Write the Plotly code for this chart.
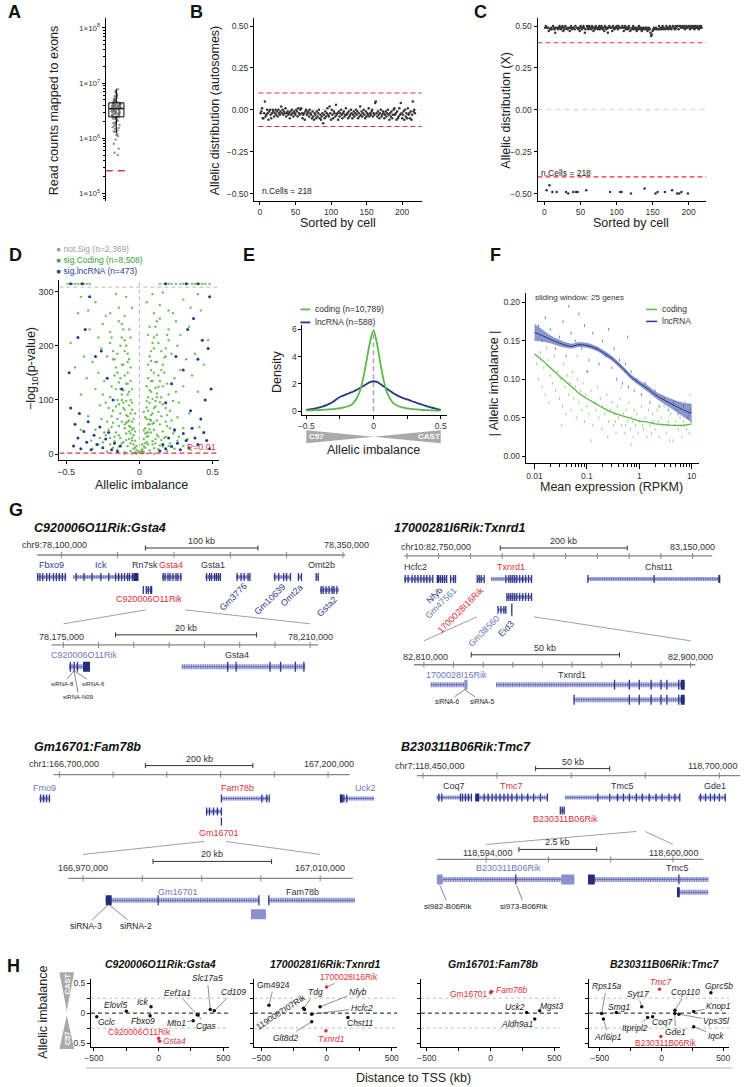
import plotly.graph_objects as go

W, H = 744, 1087
FONT = "Liberation Sans, Arial, Helvetica, sans-serif"

# ============================ DATA ============================
# ---- A: exonic read counts per cell ----
A_reads = [7.8e6, 7.2e6, 6.9e6, 6.5e6, 6.1e6, 5.9e6, 5.8e6, 5.5e6, 5.3e6, 5.2e6,
           5.0e6, 4.9e6, 4.8e6, 4.7e6, 4.6e6, 4.55e6, 4.5e6, 4.4e6, 4.4e6, 4.3e6,
           4.25e6, 4.2e6, 4.2e6, 4.1e6, 4.05e6, 4.0e6, 4.0e6, 3.9e6, 3.9e6, 3.85e6,
           3.8e6, 3.8e6, 3.7e6, 3.7e6, 3.65e6, 3.6e6, 3.6e6, 3.6e6, 3.5e6, 3.5e6,
           3.5e6, 3.45e6, 3.4e6, 3.4e6, 3.4e6, 3.3e6, 3.3e6, 3.25e6, 3.2e6, 3.2e6,
           3.1e6, 3.1e6, 3.05e6, 3.0e6, 3.0e6, 2.9e6, 2.9e6, 2.85e6, 2.8e6, 2.8e6,
           2.7e6, 2.7e6, 2.65e6, 2.6e6, 2.6e6, 2.5e6, 2.5e6, 2.45e6, 2.4e6, 2.4e6,
           2.3e6, 2.25e6, 2.2e6, 2.1e6, 2.0e6, 1.95e6, 1.9e6, 1.8e6, 1.75e6, 1.7e6,
           1.6e6, 1.55e6, 1.5e6, 1.4e6, 1.35e6, 1.3e6, 1.2e6, 1.15e6, 1.1e6, 9.5e5,
           8.0e5, 6.5e5, 5.5e5, 5.0e5]
A_q1, A_median, A_q3, A_lowfence, A_upfence = 2.45e6, 3.45e6, 4.4e6, 1.25e6, 7.9e6
A_cutoff = 2.6e5

# ---- B / C: allelic distribution per cell ----
N_CELLS = 218
B_vals = [
    -0.02, -0.01, 0.01, -0.05, -0.05, -0.02, 0.05, -0.04, -0.03, 0.00, -0.02, -0.06, -0.01, 0.00, -0.03, -0.05, -0.02, 0.00, -0.01, -0.04,
    -0.02, 0.00, -0.03, -0.01, -0.04, 0.00, -0.02, -0.03, -0.01, 0.02, -0.02, 0.00, -0.03, -0.01, -0.02, 0.01, -0.04, -0.02, -0.01, -0.03,
    -0.02, -0.05, -0.01, -0.03, 0.00, -0.02, -0.04, -0.01, -0.02, -0.03, 0.00, -0.01, -0.04, 0.01, -0.02, -0.03, 0.00, 0.01, -0.02, -0.05,
    -0.03, -0.02, -0.06, -0.01, 0.00, -0.03, -0.02, -0.01, -0.04, 0.00, -0.02, -0.03, -0.05, -0.01, -0.04, -0.06, -0.02, -0.03, -0.05, -0.01,
    -0.04, -0.02, 0.00, -0.05, -0.03, -0.06, -0.04, -0.02, -0.08, -0.03, -0.05, -0.01, -0.04, -0.02, 0.01, -0.03, -0.04, 0.02, -0.02, -0.06,
    0.00, -0.03, -0.05, -0.01, -0.02, -0.04, 0.03, -0.03, -0.02, -0.06, -0.01, -0.04, -0.02, 0.00, -0.03, -0.05, -0.02, -0.01, -0.04, -0.03,
    0.01, -0.03, -0.02, -0.05, -0.01, -0.04, -0.03, 0.00, -0.02, -0.05, -0.03, -0.01, -0.04, -0.02, 0.00, -0.03, -0.01, -0.05, -0.02, -0.04,
    0.02, -0.03, -0.01, -0.04, -0.02, 0.00, -0.03, -0.05, -0.01, -0.04, -0.02, -0.03, 0.01, -0.04, -0.02, -0.03, -0.01, 0.00, -0.04, -0.02,
    -0.03, 0.04, 0.05, -0.02, -0.04, -0.01, -0.03, -0.05, -0.02, 0.00, -0.04, -0.03, -0.01, -0.02, -0.05, -0.03, -0.01, -0.04, -0.02, 0.00,
    -0.03, -0.06, -0.02, -0.04, -0.01, -0.05, -0.03, 0.00, 0.01, -0.03, -0.02, -0.06, -0.01, -0.05, -0.04, 0.01, -0.03, 0.04, -0.02, -0.05,
    -0.03, -0.01, -0.06, 0.00, -0.04, -0.02, -0.05, 0.01, -0.03, -0.02, -0.05, -0.01, -0.06, -0.03, 0.05, -0.01, 0.00, -0.02]
B_cut = 0.1
C_hi = [
    0.49, 0.50, 0.48, 0.49, 0.49, 0.47, 0.50, 0.48, 0.49, 0.48, 0.49, 0.50, 0.49, 0.48, 0.46, 0.49, 0.50, 0.49, 0.48, 0.49,
    0.50, 0.49, 0.48, 0.49, 0.50, 0.47, 0.49, 0.48, 0.50, 0.49, 0.49, 0.48, 0.50, 0.49, 0.47, 0.49, 0.50, 0.48, 0.49, 0.50,
    0.49, 0.48, 0.50, 0.49, 0.49, 0.50, 0.48, 0.49, 0.47, 0.50, 0.49, 0.48, 0.49, 0.50, 0.49, 0.46, 0.48, 0.49, 0.50, 0.49,
    0.48, 0.50, 0.49, 0.49, 0.48, 0.50, 0.49, 0.47, 0.49, 0.48, 0.50, 0.49, 0.49, 0.48, 0.49, 0.50, 0.48, 0.49, 0.50, 0.49,
    0.48, 0.49, 0.47, 0.50, 0.49, 0.48, 0.49, 0.46, 0.49, 0.50, 0.48, 0.49, 0.49, 0.47, 0.50, 0.49, 0.48, 0.49, 0.49, 0.50,
    0.49, 0.48, 0.50, 0.49, 0.46, 0.49, 0.48, 0.50, 0.49, 0.47, 0.49, 0.50, 0.48, 0.49, 0.49, 0.48, 0.50, 0.49, 0.47, 0.49,
    0.48, 0.49, 0.50, 0.48, 0.49, 0.49, 0.48, 0.47, 0.49, 0.48, 0.50, 0.49, 0.48, 0.49, 0.47, 0.48, 0.49, 0.48, 0.47, 0.49,
    0.48, 0.49, 0.47, 0.48, 0.49, 0.48, 0.46, 0.44, 0.45, 0.47, 0.48, 0.49, 0.48, 0.47, 0.49, 0.48, 0.49, 0.48, 0.50, 0.48,
    0.49, 0.48, 0.49, 0.50, 0.48, 0.49, 0.49, 0.48, 0.50, 0.49, 0.49, 0.48, 0.49, 0.50, 0.49, 0.48, 0.49, 0.50, 0.49, 0.49,
    0.48, 0.50, 0.49, 0.49, 0.50, 0.48, 0.49, 0.50, 0.49, 0.48, 0.50, 0.49, 0.49, 0.50, 0.48, 0.49, 0.50, 0.49, 0.49, 0.50,
    0.49, 0.48, 0.50, 0.49, 0.49, 0.50, 0.49, 0.48, 0.50, 0.49, 0.49, 0.50, 0.49, 0.48, 0.50, 0.49, 0.50, 0.49]
C_lo_cells = [3, 7, 11, 17, 30, 33, 40, 44, 46, 58, 91, 105, 107, 120, 139, 154, 157, 167, 177, 184, 187, 190, 199]
C_lo_vals = [-0.48, -0.45, -0.49, -0.49, -0.49, -0.50, -0.49, -0.49, -0.49, -0.48, -0.49, -0.49, -0.49, -0.50,
             -0.47, -0.50, -0.49, -0.49, -0.48, -0.50, -0.50, -0.49, -0.50]
C_cut = 0.4

# ---- D: volcano (allelic imbalance, -log10 p) ----
D_notsig = [(-0.05, 1), (0.0, 2), (0.05, 1), (-0.1, 0.5), (0.1, 0.5), (-0.02, 0.8), (0.02, 1.2)]
D_coding = [
    (-0.22, 5), (-0.18, 12), (-0.15, 8), (-0.12, 20), (-0.10, 4), (-0.08, 15), (-0.06, 6), (-0.05, 25), (-0.04, 10), (-0.03, 3),
    (0.03, 4), (0.04, 12), (0.05, 22), (0.07, 7), (0.09, 18), (0.11, 28), (0.13, 9), (0.16, 14), (0.19, 6), (0.24, 10),
    (-0.28, 18), (-0.20, 30), (-0.14, 35), (-0.09, 38), (-0.07, 28), (-0.02, 2), (0.02, 6), (0.06, 33), (0.08, 40), (0.12, 36),
    (0.15, 26), (0.18, 32), (0.21, 20), (0.26, 25), (0.30, 15), (-0.32, 10), (-0.25, 22), (0.35, 8), (-0.17, 24), (0.10, 11),
    (-0.02, 15), (-0.03, 25), (-0.04, 35), (-0.05, 45), (-0.06, 20), (-0.07, 42), (-0.09, 26), (-0.10, 48), (-0.12, 60), (-0.13, 30),
    (-0.14, 52), (-0.16, 40), (-0.18, 58), (-0.21, 45), (-0.23, 35), (0.02, 18), (0.03, 28), (0.04, 38), (0.05, 40), (0.06, 18),
    (0.07, 46), (0.09, 24), (0.10, 45), (0.12, 62), (0.13, 32), (0.14, 55), (0.16, 42), (0.18, 60), (0.21, 48), (0.23, 38),
    (-0.04, 65), (0.04, 68), (-0.06, 100), (0.06, 105), (-0.03, 75), (0.03, 78), (-0.08, 150), (0.08, 155), (-0.05, 120), (0.05, 125),
    (-0.04, 48), (-0.05, 60), (-0.06, 75), (-0.07, 90), (-0.08, 110), (-0.09, 130), (-0.10, 55), (-0.11, 85), (-0.12, 100), (-0.13, 140),
    (-0.15, 65), (-0.16, 120), (-0.18, 80), (-0.20, 105), (-0.22, 60), (-0.24, 135), (-0.27, 90), (-0.30, 120), (-0.06, 50), (-0.08, 70),
    (0.04, 48), (0.05, 65), (0.06, 80), (0.07, 95), (0.08, 115), (0.09, 135), (0.10, 58), (0.11, 88), (0.12, 105), (0.13, 145),
    (0.15, 70), (0.16, 125), (0.18, 85), (0.20, 110), (0.22, 62), (0.24, 140), (0.27, 95), (0.30, 125), (0.06, 55), (0.08, 72),
    (-0.03, 42), (-0.05, 82), (-0.07, 62), (-0.09, 98), (-0.11, 118), (-0.14, 92), (-0.17, 145), (-0.19, 50), (0.03, 44), (0.05, 86),
    (0.07, 64), (0.09, 102), (0.11, 122), (0.14, 96), (0.17, 150), (0.19, 52), (-0.35, 70), (0.34, 75), (-0.40, 45), (0.41, 50),
    (-0.07, 175), (-0.09, 200), (-0.11, 230), (-0.06, 215), (-0.10, 255), (-0.15, 185), (-0.12, 165), (-0.19, 215), (-0.08, 130), (-0.10, 145),
    (0.07, 180), (0.09, 205), (0.11, 235), (0.06, 220), (0.10, 260), (0.15, 190), (0.12, 170), (0.19, 220), (0.08, 135), (0.10, 150),
    (-0.06, 160), (-0.08, 185), (-0.10, 210), (-0.12, 240), (-0.14, 270), (-0.16, 295), (-0.18, 175), (-0.20, 225), (-0.23, 255), (-0.26, 195),
    (-0.30, 280), (-0.34, 230), (-0.38, 180), (-0.42, 260), (-0.47, 205), (-0.09, 290), (-0.11, 165), (-0.13, 200), (-0.07, 230), (-0.05, 270),
    (0.06, 165), (0.08, 190), (0.10, 215), (0.12, 245), (0.14, 275), (0.16, 298), (0.18, 180), (0.20, 230), (0.23, 260), (0.26, 200),
    (0.30, 285), (0.34, 235), (0.38, 185), (0.42, 265), (0.47, 210), (0.09, 295), (0.11, 170), (0.13, 205), (0.07, 235), (0.05, 280),
    (-0.01, 5), (0.01, 5), (-0.02, 8), (0.02, 9), (-0.03, 12), (0.03, 14), (-0.04, 18), (0.04, 20), (-0.05, 30), (0.05, 32),
    (-0.06, 38), (0.06, 40), (-0.07, 52), (0.07, 55), (-0.08, 60), (0.08, 62), (-0.09, 72), (0.09, 75), (-0.10, 82), (0.10, 85),
    (-0.11, 95), (0.11, 98), (-0.12, 110), (0.12, 112), (-0.13, 120), (0.13, 124), (-0.14, 132), (0.14, 135), (-0.15, 150), (0.15, 155),
    (-0.16, 160), (0.16, 165), (-0.17, 175), (0.17, 178), (-0.18, 190), (0.18, 195), (-0.20, 205), (0.20, 210), (-0.22, 180), (0.22, 185),
    (-0.11, 22), (0.11, 20), (-0.14, 14), (0.14, 16), (-0.17, 32), (0.17, 30), (-0.20, 18), (0.20, 15), (-0.24, 40), (0.24, 42),
    (-0.27, 30), (0.27, 32), (-0.30, 45), (0.30, 48), (-0.33, 25), (0.33, 28), (-0.26, 65), (0.26, 68), (-0.21, 85), (0.21, 80),
    (-0.15, 100), (0.15, 105), (-0.19, 125), (0.19, 130), (-0.25, 110), (0.25, 115), (-0.28, 150), (0.28, 155), (-0.32, 170), (0.32, 175),
    (-0.36, 140), (0.36, 145), (-0.40, 110), (0.40, 115), (-0.44, 160), (0.44, 165), (-0.05, 95), (0.05, 98), (-0.07, 115), (0.07, 118),
    (-0.06, 135), (0.06, 140), (-0.08, 170), (0.08, 172), (-0.10, 190), (0.10, 195), (-0.12, 215), (0.12, 220), (-0.14, 245), (0.14, 250),
    (-0.20, 260), (0.20, 265), (-0.25, 240), (0.25, 245), (-0.28, 215), (0.28, 220), (-0.35, 265), (0.35, 270), (-0.40, 290), (0.40, 295),
    (-0.09, 58), (0.09, 56), (-0.13, 75), (0.13, 78), (-0.16, 88), (0.16, 92), (-0.19, 70), (0.19, 72), (-0.23, 95), (0.23, 98),
    (-0.49, 314), (-0.46, 314), (-0.44, 314), (-0.42, 314), (-0.40, 314), (-0.38, 314), (-0.36, 314), (-0.34, 314),
    (0.14, 314), (0.17, 314), (0.20, 314), (0.22, 314), (0.25, 314), (0.28, 314), (0.30, 314), (0.33, 314),
    (0.36, 314), (0.38, 314), (0.41, 314), (0.43, 314), (0.45, 314), (0.48, 314)]
D_lnc = [
    (-0.45, 15), (-0.42, 30), (-0.40, 10), (-0.38, 42), (-0.36, 22), (-0.33, 8), (-0.31, 35), (-0.29, 18), (-0.27, 50), (-0.25, 12),
    (-0.23, 28), (-0.21, 40), (-0.19, 8), (-0.17, 20), (-0.15, 5), (-0.13, 15), (-0.35, 60), (-0.44, 55), (-0.47, 85), (-0.41, 75),
    (0.14, 6), (0.16, 18), (0.18, 10), (0.20, 30), (0.22, 14), (0.24, 45), (0.26, 20), (0.28, 8), (0.30, 38), (0.32, 25),
    (0.34, 12), (0.36, 48), (0.38, 30), (0.40, 18), (0.42, 65), (0.44, 40), (0.46, 25), (0.48, 10), (0.35, 80), (0.45, 100),
    (-0.48, 150), (-0.37, 230), (-0.34, 290), (-0.30, 180), (-0.22, 140), (-0.18, 100), (-0.12, 120), (-0.42, 215), (-0.26, 190), (0.48, 290),
    (0.47, 195), (0.49, 120), (0.43, 210), (0.40, 175), (0.33, 230), (0.30, 155), (0.25, 180), (0.22, 130), (0.18, 95), (0.37, 250),
    (-0.47, 314), (-0.39, 314), (0.18, 314), (0.32, 314), (0.40, 314)]
D_cap_line = 308
D_pcut = 2  # -log10(0.01)

# ---- E: density of allelic imbalance ----
E_x = [-0.5, -0.475, -0.45, -0.425, -0.4, -0.375, -0.35, -0.325, -0.3, -0.275, -0.25, -0.225, -0.2, -0.175, -0.15,
       -0.125, -0.1, -0.075, -0.05, -0.025, 0, 0.025, 0.05, 0.075, 0.1, 0.125, 0.15, 0.175, 0.2, 0.225, 0.25,
       0.275, 0.3, 0.325, 0.35, 0.375, 0.4, 0.425, 0.45, 0.475, 0.5]
E_coding = [0.05, 0.06, 0.07, 0.08, 0.09, 0.10, 0.12, 0.14, 0.16, 0.19, 0.22, 0.27, 0.33, 0.42, 0.60,
            0.95, 1.5, 2.5, 3.8, 5.1, 5.9, 5.0, 3.6, 2.3, 1.4, 0.9, 0.58, 0.42, 0.32, 0.26, 0.21,
            0.18, 0.15, 0.13, 0.11, 0.09, 0.08, 0.07, 0.06, 0.05, 0.04]
E_lnc = [0.10, 0.14, 0.18, 0.23, 0.28, 0.35, 0.45, 0.56, 0.70, 0.88, 1.05, 1.15, 1.25, 1.35, 1.45,
         1.57, 1.70, 1.85, 2.00, 2.13, 2.20, 2.15, 2.00, 1.83, 1.65, 1.48, 1.30, 1.17, 1.05, 0.95, 0.87,
         0.78, 0.68, 0.60, 0.52, 0.44, 0.36, 0.29, 0.22, 0.16, 0.10]

# ---- F: |allelic imbalance| vs expression ----
F_curve_x = [0.01, 0.015, 0.02, 0.03, 0.05, 0.07, 0.1, 0.15, 0.2, 0.3, 0.5, 0.7, 1, 1.5, 2, 3, 5, 7, 10]
F_coding = [0.133, 0.123, 0.115, 0.104, 0.091, 0.082, 0.075, 0.068, 0.063, 0.057, 0.052, 0.049, 0.046, 0.044, 0.042, 0.041, 0.040, 0.040, 0.042]
F_lnc = [0.161, 0.156, 0.152, 0.147, 0.143, 0.145, 0.144, 0.140, 0.135, 0.127, 0.113, 0.103, 0.095, 0.087, 0.080, 0.073, 0.065, 0.060, 0.056]
F_lnc_lo = [0.150, 0.149, 0.147, 0.143, 0.140, 0.142, 0.141, 0.137, 0.132, 0.124, 0.110, 0.100, 0.092, 0.083, 0.076, 0.068, 0.058, 0.051, 0.044]
F_lnc_hi = [0.172, 0.163, 0.157, 0.151, 0.146, 0.148, 0.147, 0.143, 0.138, 0.130, 0.116, 0.106, 0.098, 0.091, 0.084, 0.078, 0.072, 0.069, 0.068]
F_coding_pts = [
    (0.011, 0.12), (0.012, 0.10), (0.013, 0.135), (0.014, 0.09), (0.015, 0.115), (0.016, 0.08), (0.018, 0.125), (0.019, 0.07), (0.02, 0.105), (0.022, 0.095),
    (0.024, 0.13), (0.025, 0.085), (0.027, 0.11), (0.03, 0.075), (0.032, 0.1), (0.034, 0.065), (0.036, 0.12), (0.038, 0.09), (0.04, 0.055), (0.042, 0.105),
    (0.045, 0.08), (0.048, 0.095), (0.05, 0.06), (0.053, 0.11), (0.056, 0.075), (0.06, 0.09), (0.063, 0.05), (0.066, 0.1), (0.07, 0.07), (0.075, 0.085),
    (0.08, 0.06), (0.085, 0.095), (0.09, 0.045), (0.095, 0.08), (0.1, 0.065), (0.105, 0.11), (0.11, 0.055), (0.12, 0.085), (0.13, 0.04), (0.14, 0.07),
    (0.15, 0.06), (0.16, 0.09), (0.17, 0.05), (0.18, 0.075), (0.19, 0.035), (0.2, 0.065), (0.22, 0.055), (0.24, 0.08), (0.26, 0.045), (0.28, 0.06),
    (0.3, 0.07), (0.32, 0.04), (0.34, 0.055), (0.36, 0.03), (0.38, 0.065), (0.4, 0.05), (0.43, 0.075), (0.46, 0.04), (0.5, 0.055), (0.53, 0.03),
    (0.56, 0.06), (0.6, 0.045), (0.64, 0.07), (0.68, 0.035), (0.72, 0.05), (0.76, 0.025), (0.8, 0.06), (0.85, 0.04), (0.9, 0.055), (0.95, 0.03),
    (1.0, 0.045), (1.1, 0.065), (1.2, 0.035), (1.3, 0.05), (1.4, 0.025), (1.5, 0.06), (1.6, 0.04), (1.7, 0.03), (1.8, 0.055), (1.9, 0.045),
    (2.0, 0.035), (2.2, 0.06), (2.4, 0.025), (2.6, 0.05), (2.8, 0.04), (3.0, 0.065), (3.3, 0.03), (3.6, 0.045), (4.0, 0.055), (4.4, 0.02),
    (4.8, 0.04), (5.2, 0.06), (5.6, 0.035), (6.0, 0.05), (6.5, 0.025), (7.0, 0.045), (7.5, 0.07), (8.0, 0.035), (8.7, 0.055), (9.4, 0.08),
    (0.033, 0.04), (0.25, 0.025), (0.12, 0.02), (0.7, 0.015), (2.5, 0.075), (0.45, 0.09), (0.065, 0.13), (0.017, 0.14), (3.8, 0.02), (9.0, 0.03),
    (0.35, 0.045), (0.55, 0.04), (0.75, 0.045), (1.15, 0.04), (1.75, 0.045), (2.3, 0.045), (3.5, 0.04), (5.0, 0.045), (7.2, 0.04), (9.8, 0.045)]
F_lnc_pts = [
    (0.012, 0.17), (0.014, 0.15), (0.016, 0.18), (0.02, 0.165), (0.025, 0.14), (0.03, 0.155), (0.035, 0.175), (0.04, 0.13), (0.05, 0.16), (0.06, 0.15),
    (0.07, 0.185), (0.08, 0.14), (0.09, 0.17), (0.11, 0.125), (0.13, 0.16), (0.15, 0.14), (0.17, 0.12), (0.2, 0.15), (0.23, 0.13), (0.26, 0.165),
    (0.3, 0.115), (0.33, 0.14), (0.37, 0.1), (0.42, 0.125), (0.48, 0.095), (0.55, 0.12), (0.62, 0.09), (0.7, 0.11), (0.8, 0.085), (0.9, 0.1),
    (1.1, 0.08), (1.3, 0.095), (1.6, 0.07), (2.0, 0.085), (2.4, 0.065), (3.0, 0.075), (3.6, 0.06), (4.5, 0.07), (5.5, 0.055), (7.0, 0.065),
    (8.5, 0.05), (9.5, 0.06), (0.1, 0.11), (0.045, 0.195), (0.6, 0.155)]

# ---- G: gene models (kb coordinates) ----
# (name, start, end, exons, thick blocks, row, kind)
G1U_genes = [
    ("Fbxo9", 78078.5, 78104.5, [78079, 78081, 78083.5, 78087, 78089.5, 78093, 78095.6, 78098.2, 78100.9, 78103.5], [], 1, "blue"),
    ("Ick", 78110.5, 78168.4, [78113.2, 78120.2, 78127.2, 78135.1, 78142.1, 78148.2, 78150.9, 78153.5, 78156.1, 78158.8, 78160.5, 78163.2], [(78164.0, 78168.4)], 1, "blue"),
    ("Rn7sk", 78172.6, 78173.0, [78172.8], [], 2, "dark"),
    ("Gsta4", 78189.5, 78207.0, [78190.4, 78192.1, 78194.7, 78196.5, 78199.1, 78201.8, 78203.5, 78206.1], [], 1, "focus"),
    ("Gsta1", 78228.1, 78241.2, [78229.0, 78231.6, 78233.3, 78236.0, 78237.7, 78239.5, 78241.2], [], 1, "dark"),
    ("Gm3776", 78255.3, 78267.5, [78256.1, 78259.6, 78262.3, 78265.8, 78267.5], [], 1, "blue"),
    ("Gm10639", 78288.6, 78303.5, [78289.5, 78293.0, 78297.4, 78300.0, 78303.5], [], 1, "blue"),
    ("Omt2a", 78310.5, 78313.2, [78310.5, 78313.2], [], 1, "blue"),
    ("Omt2b", 78326.3, 78328.1, [78326.3, 78328.1], [], 1, "dark"),
    ("C920006O11Rik", 78175.4, 78180.7, [78175.4, 78177.2], [(78178.9, 78180.7)], 2, "focus"),
    ("Gsta2", 78329.8, 78346.5, [78330.7, 78332.5, 78335.1, 78337.7, 78340.4, 78342.1, 78344.7], [], 2, "blue")]
G1L_genes = [
    ("C920006O11Rik", 78175.84, 78178.78, [78176.0, 78176.54, 78177.0], [(78177.8, 78178.78)], 1, "light"),
    ("Gsta4", 78191.8, 78209.3, [78198.3, 78199.5, 78204.3, 78205.8, 78207.9, 78209.1], [], 1, "dark")]
G1L_sirna = [("siRNA-8", 78176.5), ("siRNA-6", 78176.5), ("siRNA-N09", 78176.5)]

G2U_genes = [
    ("Hcfc2", 82695.5, 82740.7, [82697.1, 82701.8, 82708.0, 82712.6, 82717.3, 82722.0, 82726.7, 82731.3, 82736.0, 82740.7], [], 1, "dark"),
    ("Nfyb", 82746.9, 82762.5, [82750.0, 82753.1, 82756.2, 82759.3, 82762.5], [(82746.9, 82749.5)], 1, "blue"),
    ("Gm47561", 82768.7, 82776.5, [82768.7, 82773.4, 82776.5], [], 1, "light"),
    ("1700028I16Rik", 82810.7, 82821.6, [82810.7, 82813.8, 82816.9, 82821.6], [], 1, "focus"),
    ("Txnrd1", 82832.5, 82896.3, [82855.8, 82860.5, 82863.6, 82866.7, 82869.8, 82873.0, 82877.6, 82882.3, 82886.9, 82891.6, 82896.3], [], 1, "focus"),
    ("Txnrd1-iso2", 82857.4, 82896.3, [82857.4, 82860.5, 82863.6, 82866.7, 82869.8, 82873.0, 82877.6, 82882.3, 82886.9, 82891.6, 82896.3], [], 2, None),
    ("Gm38560", 82843.4, 82855.8, [82843.4, 82848.1, 82852.7, 82855.8], [], 3, "light"),
    ("Eid3", 82865.0, 82865.4, [82865.2], [], 3, "blue"),
    ("Chst11", 82985.0, 83193.6, [82985.0, 83089.3], [(83190.5, 83193.6)], 1, "dark")]
G2L_genes = [
    ("1700028I16Rik", 82812.33, 82824.67, [], [(82823.67, 82824.67)], 1, "light"),
    ("Txnrd1", 82834.33, 82898.0, [82874.33, 82879.33, 82882.67, 82886.67, 82890.0, 82892.0, 82896.0], [(82896.67, 82898.0)], 1, "dark"),
    ("Txnrd1-iso2", 82860.67, 82898.0, [82860.67, 82879.33, 82882.67, 82886.67, 82890.0, 82892.0, 82896.0], [(82896.67, 82898.0)], 2, None)]
G2L_sirna = [("siRNA-6", 82823.7), ("siRNA-5", 82823.7)]

G3U_genes = [
    ("Fmo9", 166663.2, 166681.6, [166665.1, 166670.6, 166676.1, 166681.6], [], 1, "light"),
    ("Fam78b", 167001.5, 167091.5, [167001.5, 167076.8, 167086.0], [(167089.7, 167091.5)], 1, "focus"),
    ("Gm16701", 166973.9, 167001.5, [166973.9, 166979.4, 166986.8, 166994.1, 167001.5], [], 2, "focus"),
    ("Gm16701-iso", 167001.3, 167001.7, [167001.5], [], 3, None),
    ("Uck2", 167222.0, 167286.4, [167223.9, 167229.4, 167234.9], [(167222.0, 167227.5)], 1, "light")]
G3L_genes = [
    ("Gm16701", 166973.83, 166999.67, [166982.67, 166999.67], [(166973.83, 166974.83)], 1, "light"),
    ("Fam78b", 167001.33, 167016.0, [167001.33], [], 1, "dark"),
    ("Gm16701-iso", 166998.33, 167000.83, [], [(166998.33, 167000.83)], 2, None)]
G3L_sirna = [("siRNA-3", 166974.3), ("siRNA-2", 166974.3)]

G4U_genes = [
    ("Coq7", 118459.3, 118482.7, [118460.7, 118462.7, 118475.3, 118476.7, 118478.7, 118480.7, 118482.7], [], 1, "dark"),
    ("Tmc7", 118485.3, 118534.0, [118491.3, 118494.0, 118496.7, 118499.3, 118502.0, 118504.7, 118507.3, 118510.0, 118513.3, 118516.7, 118520.7, 118524.7, 118529.3, 118534.0], [(118485.3, 118488.0)], 1, "focus"),
    ("Tmc5", 118546.0, 118623.3, [118568.0, 118576.0, 118581.3, 118585.3, 118589.3, 118594.0, 118598.0, 118602.7, 118607.3, 118611.3, 118616.0, 118620.0, 118623.3], [], 1, "dark"),
    ("Gde1", 118636.0, 118654.0, [118637.3, 118640.7, 118644.0, 118646.7, 118650.0, 118654.0], [], 1, "dark"),
    ("B230311B06Rik", 118542.7, 118545.3, [118542.7, 118544.0, 118545.3], [], 2, "focus")]
G4L_genes = [
    ("B230311B06Rik", 118592.41, 118596.83, [118594.95], [(118592.41, 118592.60), (118596.41, 118596.83)], 1, "light"),
    ("Tmc5", 118597.27, 118601.2, [118600.19], [(118597.27, 118597.49)], 1, "dark"),
    ("Tmc5-iso2", 118600.13, 118601.2, [], [(118600.13, 118600.22)], 2, None)]
G4L_sirna = [("si982-B06Rik", 118592.51), ("si973-B06Rik", 118594.98)]

G_loci = [("chr9", 78100000, 78350000, 78175000, 78210000),
          ("chr10", 82750000, 83150000, 82810000, 82900000),
          ("chr1", 166700000, 167200000, 166970000, 167010000),
          ("chr7", 118450000, 118700000, 118594000, 118600000)]
G_titles = ["C920006O11Rik:Gsta4", "17000281I6Rik:Txnrd1", "Gm16701:Fam78b", "B230311B06Rik:Tmc7"]
# scale bars: (centre kb, length kb, label)
G_scales = {"G1U": (78224.6, 100, "100 kb"), "G1L": (78192.4, 20, "20 kb"),
            "G2U": (82947.0, 200, "200 kb"), "G2L": (82851.0, 50, "50 kb"),
            "G3U": (166960.0, 200, "200 kb"), "G3L": (166991.8, 20, "20 kb"),
            "G4U": (118551.0, 50, "50 kb"), "G4L": (118596.3, 2.5, "2.5 kb")}

# ---- H: neighbourhood allelic imbalance (distance kb, imbalance, kind) ----
H1 = [("Gclc", -478, -0.06, "g"), ("Elovl5", -249, 0.033, "g"), ("Ick", -59, 0.105, "g"), ("Fbxo9", -66, -0.044, "g"),
      ("Mto1", 267, -0.127, "g"), ("Eef1a1", 298, -0.028, "g"), ("Cgas", 305, -0.033, "g"), ("Slc17a5", 399, 0.061, "g"),
      ("Cd109", 430, 0.039, "g"), ("C920006O11Rik", 0, -0.42, "lnc"), ("Gsta4", 8, -0.47, "focus")]
H2 = [("Gm4924", -442, 0.133, "u"), ("1700028I16Rik", 0, 0.436, "lnc"), ("Tdg", -177, 0.083, "g"),
      ("1190007I07Rik", -169, 0.06, "u"), ("Nfyb", -50, 0.105, "g"), ("Hcfc2", -114, -0.017, "g"),
      ("Glt8d2", -114, -0.144, "g"), ("Txnrd1", -5, -0.293, "focus"), ("Chst11", 164, -0.072, "g")]
H3 = [("Gm16701", 0, 0.34, "lnc"), ("Fam78b", 5, 0.36, "focus"), ("Uck2", 282, 0.011, "g"),
      ("Mgst3", 385, 0.039, "g"), ("Aldh9a1", 346, -0.1, "g")]
H4 = [("Rps15a", -485, -0.005, "g"), ("Arl6ip1", -470, -0.1, "g"), ("Tmc7", -16, 0.40, "focus"),
      ("Gprc5b", 400, 0.34, "g"), ("Syt17", -160, 0.105, "g"), ("Ccp110", 109, 0.05, "g"), ("Smg1", -365, 0.011, "g"),
      ("Knop1", 261, 0.028, "g"), ("Vps35l", 141, -0.017, "g"), ("Iqck", 261, -0.227, "g"), ("Gde1", 107, -0.006, "g"),
      ("Coq7", -72, -0.061, "g"), ("Itpripl2", -112, -0.072, "g"), ("B230311B06Rik", -5, -0.392, "lnc")]

# ============================ STYLE / LAYOUT ============================
fig = go.Figure()
L = {}
shapes = []
ann = []


def xd(a, b):
    return [a / W, b / W]


def yd(top, bot):
    return [1 - bot / H, 1 - top / H]


def PX(x):
    return x / W


def PY(y):
    return 1 - y / H


def AXS(**kw):
    d = dict(showline=True, linecolor='black', linewidth=1, ticks='outside', ticklen=3, tickwidth=1,
             tickcolor='black', showgrid=False, zeroline=False,
             tickfont=dict(size=8.5, color='#333333', family=FONT))
    d.update(kw)
    return d


def HIDDEN(**kw):
    d = dict(showline=False, showticklabels=False, ticks='', showgrid=False, zeroline=False)
    d.update(kw)
    return d


def txt(x, y, s, size=9, color='#222222', xanchor='center', yanchor='middle', angle=0, xref='paper', yref='paper', **kw):
    if xref == 'paper':
        x = PX(x)
    if yref == 'paper':
        y = PY(y)
    ann.append(dict(x=x, y=y, xref=xref, yref=yref, text=s, showarrow=False, xanchor=xanchor, yanchor=yanchor,
                    textangle=angle, font=dict(size=size, color=color, family=FONT), **kw))


def pline(x0, y0, x1, y1, color='#999999', width=1, dash=None):
    shapes.append(dict(type='line', xref='paper', yref='paper', x0=PX(x0), y0=PY(y0), x1=PX(x1), y1=PY(y1),
                       line=dict(color=color, width=width, dash=dash)))


def segs(pairs, xa, ya, color, width, dash=None):
    if not pairs:
        return
    xs, ys = [], []
    for (a, b, c, d) in pairs:
        xs += [a, c, None]
        ys += [b, d, None]
    fig.add_trace(go.Scatter(x=xs, y=ys, mode='lines', line=dict(color=color, width=width, dash=dash),
                             xaxis=xa, yaxis=ya, hoverinfo='skip', showlegend=False))


def pts(pairs, xa, ya, **marker):
    fig.add_trace(go.Scatter(x=[p[0] for p in pairs], y=[p[1] for p in pairs], mode='markers', marker=marker,
                             xaxis=xa, yaxis=ya, hoverinfo='skip', showlegend=False))


RED = '#d93a3a'
GREEN = '#5cb947'
NAVY = '#23398c'

# ---------------- panel letters ----------------
for lt, x, y in [('A', 8, 11), ('B', 192, 11), ('C', 479, 11), ('D', 9, 254), ('E', 245, 254), ('F', 494, 254),
                 ('G', 9, 510), ('H', 7, 967)]:
    txt(x, y, '<b>%s</b>' % lt, size=18, color='#111111')

# ---------------- A ----------------
L['xaxis'] = HIDDEN(domain=xd(100, 126), range=[-0.7, 1.0], anchor='y')
minorA = [m * 10 ** e for e in (4, 5, 6, 7) for m in range(2, 10) if 10 ** 4.88 < m * 10 ** e < 10 ** 8.17]
L['yaxis'] = AXS(domain=yd(17, 200), type='log', range=[4.873, 8.181], tickvals=[1e5, 1e6, 1e7, 1e8],
                 ticktext=['1×10<sup>5</sup>', '1×10<sup>6</sup>', '1×10<sup>7</sup>', '1×10<sup>8</sup>'], anchor='x',
                 minor=dict(ticks='outside', ticklen=2, tickvals=minorA, tickcolor='black'),
                 tickfont=dict(size=8, color='#333333', family=FONT))
fig.add_trace(go.Box(x=[0] * len(A_reads), y=A_reads, boxpoints='all', jitter=0.8, pointpos=0, width=1.0,
                     marker=dict(size=2.4, color='rgba(80,80,80,0.6)'), line=dict(width=0, color='rgba(0,0,0,0)'),
                     fillcolor='rgba(0,0,0,0)', xaxis='x', yaxis='y', hoverinfo='skip', showlegend=False))
fig.add_trace(go.Box(x=[0], q1=[A_q1], median=[A_median], q3=[A_q3], lowerfence=[A_lowfence], upperfence=[A_upfence],
                     width=1.0, whiskerwidth=0, line=dict(color='black', width=1), fillcolor='rgba(0,0,0,0)',
                     xaxis='x', yaxis='y', hoverinfo='skip', showlegend=False))
fig.add_trace(go.Scatter(x=[-0.7, 0.66], y=[A_cutoff, A_cutoff], mode='lines',
                         line=dict(color=RED, width=1.6, dash='7px,5px'), xaxis='x', yaxis='y',
                         hoverinfo='skip', showlegend=False))
txt(47, 109, 'Read counts mapped to exons', size=12.5, angle=-90)

# ---------------- B ----------------
L['xaxis2'] = AXS(domain=xd(250, 420), range=[-8.33, 227.8], tickvals=[0, 50, 100, 150, 200], anchor='y2')
L['yaxis2'] = AXS(domain=yd(17, 200), range=[-0.542, 0.548], tickvals=[-0.5, -0.25, 0, 0.25, 0.5],
                  ticktext=['−0.50', '−0.25', '0.00', '0.25', '0.50'], anchor='x2')
for yv, col, dsh in [(0, '#d0d0d0', '5px,4px'), (B_cut, RED, '5px,3px'), (-B_cut, RED, '5px,3px')]:
    shapes.append(dict(type='line', xref='x2', yref='y2', x0=-2, x1=227.8, y0=yv, y1=yv, layer='below',
                       line=dict(color=col, width=1.1, dash=dsh)))
cellsB = list(range(1, len(B_vals) + 1))
fig.add_trace(go.Scatter(x=cellsB, y=B_vals, mode='markers', marker=dict(size=2.5, color='#333333'),
                         xaxis='x2', yaxis='y2', hoverinfo='skip', showlegend=False))
txt(0, -0.485, 'n.Cells = %d' % N_CELLS, size=8.5, xanchor='left', xref='x2', yref='y2')
txt(210, 109, 'Allelic distribution (autosomes)', size=12.5, angle=-90)
txt(335, 222, 'Sorted by cell', size=12.5)

# ---------------- C ----------------
L['xaxis3'] = AXS(domain=xd(537, 708), range=[-9.59, 224.66], tickvals=[0, 50, 100, 150, 200], anchor='y3')
L['yaxis3'] = AXS(domain=yd(17, 200), range=[-0.542, 0.548], tickvals=[-0.5, -0.25, 0, 0.25, 0.5],
                  ticktext=['−0.50', '−0.25', '0.00', '0.25', '0.50'], anchor='x3')
for yv, col, dsh in [(0, '#d0d0d0', '5px,4px'), (C_cut, RED, '5px,3px'), (-C_cut, RED, '5px,3px')]:
    shapes.append(dict(type='line', xref='x3', yref='y3', x0=-9.59, x1=224.66, y0=yv, y1=yv, layer='below',
                       line=dict(color=col, width=1.1, dash=dsh)))
hi_x = [i + 1 for i in range(len(C_hi)) if (i + 1) not in C_lo_cells]
hi_y = [C_hi[i] for i in range(len(C_hi)) if (i + 1) not in C_lo_cells]
fig.add_trace(go.Scatter(x=hi_x, y=hi_y, mode='markers', marker=dict(size=2.5, color='#333333'),
                         xaxis='x3', yaxis='y3', hoverinfo='skip', showlegend=False))
fig.add_trace(go.Scatter(x=C_lo_cells, y=C_lo_vals, mode='markers', marker=dict(size=2.5, color='#333333'),
                         xaxis='x3', yaxis='y3', hoverinfo='skip', showlegend=False))
txt(-7, -0.375, 'n.Cells = %d' % N_CELLS, size=8.5, xanchor='left', xref='x3', yref='y3')
txt(505, 109, 'Allelic distribution (X)', size=12.5, angle=-90)
txt(632, 222, 'Sorted by cell', size=12.5)

# ---------------- D ----------------
L['xaxis4'] = AXS(domain=xd(53, 215), range=[-0.547, 0.547], tickvals=[-0.5, 0, 0.5], ticktext=['−0.5', '0', '0.5'],
                  anchor='y4', tickfont=dict(size=9, color='#333333', family=FONT))
L['yaxis4'] = AXS(domain=yd(280, 460), range=[-11, 320.2], tickvals=[0, 100, 200, 300], anchor='x4',
                  tickfont=dict(size=9, color='#333333', family=FONT))
shapes.append(dict(type='line', xref='x4', yref='y4', x0=0, x1=0, y0=0, y1=320, layer='below',
                   line=dict(color='#bbbbbb', width=1, dash='4px,3px')))
shapes.append(dict(type='line', xref='x4', yref='y4', x0=-0.547, x1=0.547, y0=D_cap_line, y1=D_cap_line,
                   layer='below', line=dict(color='#bbbbbb', width=1, dash='4px,3px')))
pts(D_notsig, 'x4', 'y4', size=2.4, color='#aaaaaa')
pts(D_coding, 'x4', 'y4', size=2.4, color='rgba(95,185,75,0.9)')
pts(D_lnc, 'x4', 'y4', size=3.0, color=NAVY)
shapes.append(dict(type='line', xref='x4', yref='y4', x0=-0.547, x1=0.547, y0=D_pcut, y1=D_pcut,
                   line=dict(color=RED, width=1.1, dash='5px,3px')))
txt(214, 447, 'P=0.01', size=9, color=RED, xanchor='right')
txt(48, 248, '● not.Sig (n=2,369)', size=8.5, color='#a0a0a0', xanchor='left')
txt(48, 259, '● sig.Coding (n=8,508)', size=8.5, color='#3c9e3c', xanchor='left')
txt(48, 270, '● sig.lncRNA (n=473)', size=8.5, color='#2a3f8f', xanchor='left')
txt(26, 368, '−log<sub>10</sub>(p-value)', size=12.5, angle=-90)
txt(136, 485, 'Allelic imbalance', size=12.5)

# ---------------- E ----------------
L['xaxis5'] = AXS(domain=xd(299, 445), range=[-0.529, 0.544], tickvals=[-0.5, 0, 0.5],
                  ticktext=['−0.5', '0', '0.5'], anchor='y5',
                  minor=dict(ticks='outside', ticklen=3, tickvals=[-0.25, 0.25], tickcolor='black'))
L['yaxis5'] = AXS(domain=yd(325, 415), range=[-0.293, 6.293], tickvals=[0, 2, 4, 6], anchor='x5')
shapes.append(dict(type='line', xref='x5', yref='y5', x0=0, x1=0, y0=0, y1=6, layer='below',
                   line=dict(color='#aaaaaa', width=1.5, dash='5px,3px')))
fig.add_trace(go.Scatter(x=E_x, y=E_lnc, mode='lines', line=dict(color=NAVY, width=1.8, shape='spline'),
                         xaxis='x5', yaxis='y5', hoverinfo='skip', showlegend=False))
fig.add_trace(go.Scatter(x=E_x, y=E_coding, mode='lines', line=dict(color=GREEN, width=1.8, shape='spline'),
                         xaxis='x5', yaxis='y5', hoverinfo='skip', showlegend=False))
yt, yb, ym = PY(430), PY(443), PY(436.5)
shapes.append(dict(type='path', xref='x5', yref='paper', path='M -0.5,%f L 0,%f L -0.5,%f Z' % (yt, ym, yb),
                   fillcolor='#a9a9a9', line=dict(width=0)))
shapes.append(dict(type='path', xref='x5', yref='paper', path='M 0.5,%f L 0,%f L 0.5,%f Z' % (yt, ym, yb),
                   fillcolor='#a9a9a9', line=dict(width=0)))
txt(313, 436.5, '<b>C57</b>', size=8, color='white')
txt(427, 436.5, '<b>CAST</b>', size=8, color='white')
pline(297, 309, 307, 309, GREEN, 1.8)
pline(297, 322, 307, 322, NAVY, 1.8)
txt(310, 309, 'coding (n=10,789)', size=8.5, color='#333333', xanchor='left')
txt(310, 322, 'lncRNA (n=588)', size=8.5, color='#333333', xanchor='left')
txt(274, 372, 'Density', size=12.5, angle=-90)
txt(371, 450, 'Allelic imbalance', size=12.5)

# ---------------- F ----------------
minorF = [m * 10 ** e for e in (-2, -1, 0) for m in range(2, 10)]
L['xaxis6'] = AXS(domain=xd(525, 700), type='log', range=[-2.170, 1.132], tickvals=[0.01, 0.1, 1, 10],
                  ticktext=['0.01', '0.1', '1', '10'], ticklen=5, anchor='y6',
                  minor=dict(ticks='outside', ticklen=2.5, tickvals=minorF, tickcolor='black'))
L['yaxis6'] = AXS(domain=yd(293, 463), range=[-0.0091, 0.2117], tickvals=[0, 0.05, 0.1, 0.15, 0.2],
                  ticktext=['0.00', '0.05', '0.10', '0.15', '0.20'], anchor='x6')
fig.add_trace(go.Scatter(x=[p[0] for p in F_coding_pts], y=[p[1] for p in F_coding_pts], mode='markers',
                         marker=dict(symbol='line-ns-open', size=2, color='rgba(100,185,80,0.8)', line=dict(width=0.8)),
                         xaxis='x6', yaxis='y6', hoverinfo='skip', showlegend=False))
fig.add_trace(go.Scatter(x=[p[0] for p in F_lnc_pts], y=[p[1] for p in F_lnc_pts], mode='markers',
                         marker=dict(symbol='line-ns-open', size=2, color='rgba(45,65,140,0.8)', line=dict(width=0.8)),
                         xaxis='x6', yaxis='y6', hoverinfo='skip', showlegend=False))
fig.add_trace(go.Scatter(x=F_curve_x, y=F_lnc_lo, mode='lines', line=dict(width=0, color='rgba(0,0,0,0)', shape='spline'),
                         xaxis='x6', yaxis='y6', hoverinfo='skip', showlegend=False))
fig.add_trace(go.Scatter(x=F_curve_x, y=F_lnc_hi, mode='lines', fill='tonexty', fillcolor='rgba(75,95,180,0.65)',
                         line=dict(width=0.5, color='rgba(60,80,160,0.6)', shape='spline'),
                         xaxis='x6', yaxis='y6', hoverinfo='skip', showlegend=False))
fig.add_trace(go.Scatter(x=F_curve_x, y=F_lnc, mode='lines', line=dict(color='#24367f', width=1, shape='spline'),
                         xaxis='x6', yaxis='y6', hoverinfo='skip', showlegend=False))
fig.add_trace(go.Scatter(x=F_curve_x, y=F_coding, mode='lines', line=dict(color=GREEN, width=1.3, shape='spline'),
                         xaxis='x6', yaxis='y6', hoverinfo='skip', showlegend=False))
txt(532, 297, 'sliding window: 25 genes', size=8, xanchor='left', color='#333333')
pline(647, 309, 658, 309, GREEN, 1.5)
pline(647, 321, 658, 321, NAVY, 1.5)
txt(661, 309, 'coding', size=8.5, xanchor='left', color='#333333')
txt(661, 321, 'lncRNA', size=8.5, xanchor='left', color='#333333')
txt(493, 383, '| Allelic imbalance |', size=12.5, angle=-90)
txt(612, 487, 'Mean expression (RPKM)', size=12.5)

# ---------------- G ----------------
GCOL = {'focus': '#e0303a', 'dark': '#333340', 'blue': '#363d8c', 'light': '#6f78b8'}
LIGHT_BLOCKS = {('G4L', 'B230311B06Rik'), ('G3L', 'Gm16701-iso'), ('G2L', '1700028I16Rik')}
L['yaxis7'] = HIDDEN(domain=yd(520, 945), range=[945, 520], anchor='x7')

TR = {
    'G1U': dict(xa='x7', dom=(30, 345), rng=(78078.07, 78354.39), axis=(78078.5, 78352.0), ay=555,
                rows={1: 577, 2: 590}, ticks=(78100, 78350, 50), genes=G1U_genes, sy=548, sty=541, eh=4, bw=4, bh=8,
                lab={'Fbxo9': (565, 0, 0), 'Ick': (565, -5, 0), 'Rn7sk': (565, 2, 0), 'Gsta4': (565, -1, 0),
                     'Gsta1': (565, 0, 0), 'Omt2b': (565, 4, 0), 'C920006O11Rik': (599, 0, 0),
                     'Gm3776': (597, -10, -45), 'Gm10639': (599, -12, -45), 'Omt2a': (595, -8, -45),
                     'Gsta2': (607, -3, -45)}),
    'G1L': dict(xa='x8', dom=(45, 315), rng=(78173.32, 78211.13), axis=(78173.3, 78211.1), ay=645,
                rows={1: 667}, ticks=(78175, 78210, 5), genes=G1L_genes, sy=635, sty=628, eh=5, bw=5, bh=10,
                lab={'C920006O11Rik': (655, 4, 0), 'Gsta4': (655, -7, 0)}),
    'G2U': dict(xa='x9', dom=(402, 724), rng=(82695.53, 83196.7), axis=(82695.5, 83181.1), ay=556,
                rows={1: 579, 2: 597, 3: 610}, ticks=(82700, 83150, 50), genes=G2U_genes, sy=548, sty=541, eh=4,
                bw=4, bh=8,
                lab={'Hcfc2': (567, -3, 0), 'Txnrd1': (567, 0, 0), 'Chst11': (567, 5, 0), 'Nfyb': (595, -7, -45),
                     'Gm47561': (603, -12, -45), '1700028I16Rik': (610, -20, -45), 'Gm38560': (631, -18, -45),
                     'Eid3': (629, -6, -45)}),
    'G2L': dict(xa='x10', dom=(412, 697), rng=(82806.67, 82901.67), axis=(82806.7, 82901.7), ay=665,
                rows={1: 685, 2: 700}, ticks=(82810, 82900, 10), genes=G2L_genes, sy=655, sty=648, eh=5, bw=5,
                bh=10, lab={'1700028I16Rik': (675, 7, 0), 'Txnrd1': (675, -18, 0)}),
    'G3U': dict(xa='x11', dom=(30, 372), rng=(166657.7, 167286.4), axis=(166689.0, 167240.4), ay=775,
                rows={1: 799, 2: 812, 3: 822}, ticks=(166700, 167200, 100), genes=G3U_genes, sy=766, sty=759,
                eh=4, bw=4, bh=8,
                lab={'Fmo9': (788, 0, 0), 'Fam78b': (788, -8, 0), 'Uck2': (788, 8, 0), 'Gm16701': (834, 5, 0)}),
    'G3L': dict(xa='x12', dom=(62, 352), rng=(166967.5, 167015.83), axis=(166967.5, 167015.5), ay=879,
                rows={1: 901, 2: 915}, ticks=(166970, 167010, 10), genes=G3L_genes, sy=862, sty=855, eh=5, bw=5,
                bh=10, lab={'Gm16701': (893, -4, 0), 'Fam78b': (893, -10, 0)}),
    'G4U': dict(xa='x13', dom=(390, 744), rng=(118429.3, 118665.3), axis=(118446.0, 118664.0), ay=776,
                rows={1: 798, 2: 811}, ticks=(118450, 118650, 50), genes=G4U_genes, sy=769, sty=762, eh=4, bw=4,
                bh=8,
                lab={'Coq7': (786, 0, 0), 'Tmc7': (786, 0, 0), 'Tmc5': (786, 0, 0), 'Gde1': (786, 3, 0),
                     'B230311B06Rik': (820, 3, 0)}),
    'G4L': dict(xa='x14', dom=(435, 710), rng=(118592.41, 118601.14), axis=(118592.41, 118600.98), ay=860,
                rows={1: 880, 2: 893}, ticks=(118594, 118600, 2), genes=G4L_genes, sy=850, sty=843, eh=5, bw=5,
                bh=10, lab={'B230311B06Rik': (869, 3, 0), 'Tmc5': (869, 28, 0)}),
}


def kb2px(T, kb):
    d0, d1 = T['dom']
    r0, r1 = T['rng']
    return d0 + (kb - r0) / (r1 - r0) * (d1 - d0)


for key, T in TR.items():
    xa, ya = T['xa'], 'y7'
    n = xa[1:]
    L['xaxis' + n] = HIDDEN(domain=xd(*T['dom']), range=list(T['rng']), anchor='y7')
    ay = T['ay']
    segs([(T['axis'][0], ay, T['axis'][1], ay)], xa, ya, '#858585', 1.3)
    t0, t1, st = T['ticks']
    tk = []
    v = t0
    while v <= t1 + 1e-9:
        tk.append((v, ay - 3, v, ay + 3))
        v += st
    segs(tk, xa, ya, '#858585', 1)
    c, ln, lab = G_scales[key]
    sy = T['sy']
    segs([(c - ln / 2, sy, c + ln / 2, sy), (c - ln / 2, sy - 2.5, c - ln / 2, sy + 2.5),
          (c + ln / 2, sy - 2.5, c + ln / 2, sy + 2.5)], xa, ya, '#333333', 1)
    txt(c, T['sty'], lab, size=9, color='#333333', xref=xa, yref='y7')
    band, exons, dblk, lblk = [], [], [], []
    for (name, s, e, ex, bl, row, kind) in T['genes']:
        ry = T['rows'][row]
        band.append((s, ry, e, ry))
        h = T['eh'] * (1.6 if name == 'Eid3' else 1)
        for p in ex:
            exons.append((p, ry - h, p, ry + h))
        for (b0, b1) in bl:
            (lblk if (key, name) in LIGHT_BLOCKS else dblk).append((b0, ry, b1, ry))
        if kind is not None and name in T['lab']:
            ly, sh, ang = T['lab'][name]
            ann.append(dict(x=(s + e) / 2, y=ly, xref=xa, yref='y7', text=name, showarrow=False, xshift=sh,
                            textangle=ang, xanchor='center', yanchor='middle',
                            font=dict(size=9, color=GCOL[kind], family=FONT)))
    segs(band, xa, ya, '#c4c8ea', T['bw'])
    segs(band, xa, ya, '#7f87c6', T['bw'], dash='1px,1.3px')
    segs(band, xa, ya, '#4d55a5', 0.7)
    segs(exons, xa, ya, '#30378a', 1.3)
    segs(dblk, xa, ya, '#252c7a', T['bh'])
    segs(lblk, xa, ya, '#8a91cc', T['bh'])

# coordinate labels
UP_POS = [((83, 545), (344, 545)), ((472, 547), (694, 547)), ((95, 764), (326, 764)), ((465, 766), (714, 766))]
LO_POS = [((55, 637), (307, 637)), ((424, 657), (692, 657)), ((77, 869), (317, 869)), ((486, 854), (675, 854))]
TITLE_POS = [(25, 528), (390, 528), (25, 747), (397, 747)]
for i, (chrom, u0, u1, l0, l1) in enumerate(G_loci):
    (ax0, ay0), (ax1, ay1) = UP_POS[i]
    txt(ax0, ay0, '%s:%s' % (chrom, format(u0, ',')), size=9, color='#333333', xanchor='right')
    txt(ax1, ay1, format(u1, ','), size=9, color='#333333')
    (bx0, by0), (bx1, by1) = LO_POS[i]
    txt(bx0, by0, format(l0, ','), size=9, color='#333333')
    txt(bx1, by1, format(l1, ','), size=9, color='#333333')
    tx, ty = TITLE_POS[i]
    txt(tx, ty, '<b><i>%s</i></b>' % G_titles[i], size=12.5, color='#111111', xanchor='left')

# zoom connector lines (from region on upper track to lower track span)
CONN = [('G1U', 'G1L', 610, 624, 0), ('G2U', 'G2L', 617, 641, 1), ('G3U', 'G3L', 842, 855, 2), ('G4U', 'G4L', 832, 845, 3)]
for up, lo, y0, y1, i in CONN:
    k0, k1 = G_loci[i][3] / 1000.0, G_loci[i][4] / 1000.0
    for k in (k0, k1):
        shapes.append(dict(type='line', xref='paper', yref='y7', x0=PX(kb2px(TR[up], k)), y0=y0,
                           x1=PX(kb2px(TR[lo], k)), y1=y1, line=dict(color='#a0a0a0', width=1)))

# siRNA annotations (offsets are label placement)
SI = [('G1L', G1L_sirna, 671, 6, {'siRNA-8': (-11, 13), 'siRNA-6': (20, 13), 'siRNA-N09': (5, 26)}),
      ('G2L', G2L_sirna, 690, 6.5, {'siRNA-6': (-17, 12), 'siRNA-5': (18, 12)}),
      ('G3L', G3L_sirna, 905, 8.5, {'siRNA-3': (-23, 22), 'siRNA-2': (27, 22)}),
      ('G4L', G4L_sirna, 886, 8, {'si982-B06Rik': (9, 21), 'si973-B06Rik': (8, 21)})]
for key, lst, yy, fs, offs in SI:
    for (nm, kb) in lst:
        dxp, dyp = offs[nm]
        ann.append(dict(x=kb, y=yy, xref=TR[key]['xa'], yref='y7', text=nm, showarrow=True, arrowhead=0,
                        arrowwidth=0.7, arrowcolor='#555555', ax=dxp, ay=dyp, standoff=0,
                        font=dict(size=fs, color='#222222', family=FONT)))

# ---------------- H ----------------
H_PANELS = [('15', (85, 225), (-523, 546), H1, G_titles[0], 155),
            ('16', (250, 395), (-557, 542), H2, G_titles[1], 322),
            ('17', (419, 560), (-547, 546), H3, G_titles[2], 492),
            ('18', (589, 731), (-588, 548), H4, G_titles[3], 666)]
H_OFF = {
    'Gclc': (10, 5), 'Elovl5': (-11, -6), 'Ick': (-8, -5), 'Fbxo9': (-7, 5), 'Mto1': (-17, 2), 'Eef1a1': (-20, -22),
    'Cgas': (8, 11), 'Slc17a5': (-3, -31), 'Cd109': (19, -19), 'C920006O11Rik': (-19, -6), 'Gsta4': (15, 0),
    'Gm4924': (5, -20), '1700028I16Rik': (22, -10), 'Tdg': (12, -16), '1190007I07Rik': (-24, 2), 'Nfyb': (38, -15),
    'Hcfc2': (50, -6), 'Glt8d2': (-26, 16), 'Txnrd1': (6, 8), 'Chst11': (13, 6),
    'Gm16701': (-22, 1), 'Fam78b': (20, -2), 'Uck2': (-12, -5), 'Mgst3': (12, -5), 'Aldh9a1': (-18, 5),
    'Rps15a': (5, -27), 'Arl6ip1': (5, 18), 'Tmc7': (1, -7), 'Gprc5b': (8, -7), 'Syt17': (-4, -13),
    'Ccp110': (11, -18), 'Smg1': (3, -5), 'Knop1': (25, -5), 'Vps35l': (38, 7), 'Iqck': (22, 9), 'Gde1': (1, 19),
    'Coq7': (10, 5), 'Itpripl2': (-13, 11), 'B230311B06Rik': (5, 6)}
for n, dom, rng, data, title, tcx in H_PANELS:
    xa, ya = 'x' + n, 'y' + n
    first = (n == '15')
    L['xaxis' + n] = AXS(domain=xd(*dom), range=list(rng), tickvals=[-500, 0, 500],
                         ticktext=['−500', '0', '500'], anchor=ya,
                         minor=dict(ticks='outside', ticklen=3, tickvals=[-250, 250], tickcolor='black'),
                         tickfont=dict(size=8.5, color='#333333', family=FONT))
    yax = AXS(domain=yd(980, 1048), range=[-0.567, 0.567], tickvals=[-0.5, 0, 0.5], anchor=xa,
              minor=dict(ticks='outside', ticklen=3, tickvals=[-0.25, 0.25], tickcolor='black'),
              tickfont=dict(size=8.5, color='#333333', family=FONT))
    if first:
        yax['ticktext'] = ['−0.5', '0', '0.5']
    else:
        yax['showticklabels'] = False
    L['yaxis' + n] = yax
    for yv, col, dsh, wd in [(0.25, '#b0b0b0', 'dot', 0.8), (-0.25, '#b0b0b0', 'dot', 0.8), (0, '#111111', '4px,3px', 1)]:
        shapes.append(dict(type='line', xref=xa + ' domain', yref=ya, x0=0, x1=1, y0=yv, y1=yv, layer='below',
                           line=dict(color=col, width=wd, dash=dsh)))
    blk = [(d[1], d[2]) for d in data if d[3] not in ('focus', 'lnc')]
    red = [(d[1], d[2]) for d in data if d[3] in ('focus', 'lnc')]
    pts(blk, xa, ya, size=3.5, color='#111111')
    pts(red, xa, ya, size=3.5, color='#e0303a')
    for (nm, kbv, val, kind) in data:
        dxp, dyp = H_OFF[nm]
        col = '#e0303a' if kind in ('focus', 'lnc') else '#222222'
        label = nm if kind in ('lnc', 'u') else '<i>%s</i>' % nm
        a = dict(x=kbv, y=val, xref=xa, yref=ya, text=label, showarrow=True, arrowhead=0, arrowwidth=0.6,
                 arrowcolor='#444444', ax=dxp, ay=dyp, standoff=1.5,
                 font=dict(size=8.5, color=col, family=FONT))
        if nm == '1190007I07Rik':
            a.update(textangle=-33, arrowcolor='rgba(0,0,0,0)')
        ann.append(a)
    txt(tcx, 965, '<b><i>%s</i></b>' % title, size=10.5, color='#111111')

# H decorations
shapes.append(dict(type='path', xref='paper', yref='paper',
                   path='M %f,%f L %f,%f L %f,%f Z' % (PX(53), PY(973), PX(68), PY(973), PX(60.5), PY(1012)),
                   fillcolor='#a9a9a9', line=dict(width=0)))
shapes.append(dict(type='path', xref='paper', yref='paper',
                   path='M %f,%f L %f,%f L %f,%f Z' % (PX(60.5), PY(1016), PX(53), PY(1050), PX(68), PY(1050)),
                   fillcolor='#a9a9a9', line=dict(width=0)))
txt(61, 985, '<b>CAST</b>', size=7.5, color='white', angle=-90)
txt(61, 1039, '<b>C57</b>', size=7.5, color='white', angle=-90)
txt(37, 1013, 'Allelic imbalance', size=12.5, angle=-90)
pline(80, 1069, 734, 1069, '#b0b0b0', 1)
txt(411, 1079, 'Distance to TSS (kb)', size=12.5)

fig.update_layout(**L)
fig.update_layout(width=W, height=H, margin=dict(l=0, r=0, t=0, b=0), paper_bgcolor='white',
                  plot_bgcolor='rgba(0,0,0,0)', showlegend=False, shapes=shapes, annotations=ann,
                  font=dict(family=FONT, color='#222222'), boxmode='overlay')

fig.write_html("out.html", config={'displayModeBar': False},
               post_script="document.body.style.margin='0';document.body.style.overflow='hidden';")
